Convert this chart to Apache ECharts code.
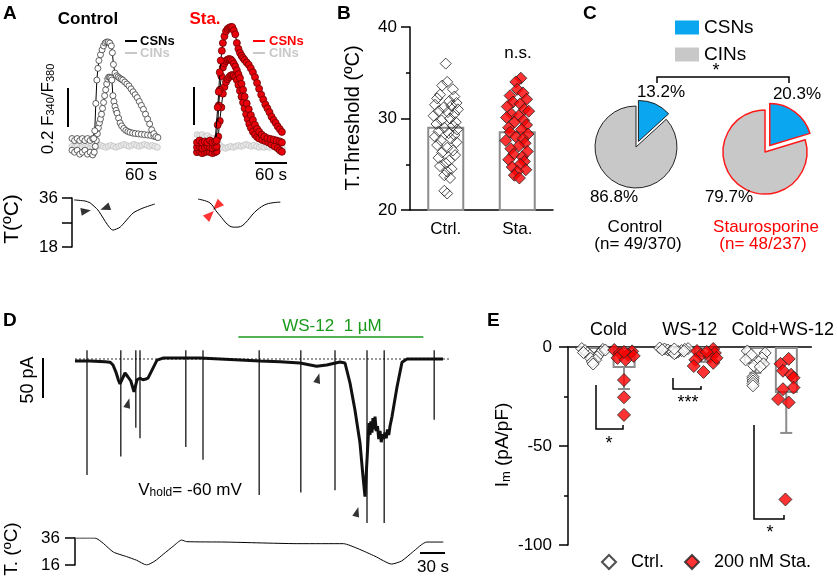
<!DOCTYPE html>
<html><head><meta charset="utf-8">
<script src="https://cdn.jsdelivr.net/npm/echarts@6/dist/echarts.min.js"></script>
<style>html,body{margin:0;padding:0;background:#fff}#c{width:837px;height:582px}</style>
</head><body><div id="c"></div>
<script>
// ---------------- DATA ----------------
// Panel A: Fura-2 ratio traces [time s, F340/F380]
const ctrlCsn1 = [[0,.71],[5,.70],[10,.71],[15,.70],[20,.71],[25,.70],[30,.71],[35,.70],[40,.71],[42,.71],[44,.75],[46,.89],[48,1.01],[50,1.07],[52,1.11],[55,1.14],[58,1.165],[61,1.185],[64,1.20],[67,1.205],[70,1.205],[73,1.20],[76,1.185],[78,1.15],[80,1.09],[83,1.046],[86,1.032],[89,1.026],[92,1.02],[95,1.015],[98,1.01],[102,1.0],[106,.99],[110,.98],[114,.965],[118,.95],[122,.935],[126,.92],[130,.90],[134,.88],[138,.86],[142,.835],[146,.81],[150,.785],[154,.755],[158,.735],[162,.72],[166,.715]];
const ctrlCsn2 = [[0,.65],[5,.64],[10,.65],[15,.63],[20,.64],[25,.65],[30,.63],[35,.64],[40,.626],[43,.64],[45,.67],[47,.70],[49,.735],[51,.765],[53,.79],[55,.81],[57,.835],[59,.865],[61,.895],[63,.93],[65,.96],[67,.99],[69,1.015],[71,1.025],[73,1.024],[75,1.02],[77,1.01],[79,.93],[81,.90],[83,.875],[85,.855],[87,.84],[90,.815],[93,.79],[96,.775],[100,.762],[104,.752],[108,.746],[112,.742],[117,.738],[122,.736],[128,.734],[134,.732],[140,.73],[146,.728],[152,.726],[158,.722],[164,.718]];
const ctrlCin = [[0,.67],[5,.665],[10,.67],[15,.66],[20,.665],[25,.67],[30,.665],[35,.66],[40,.665],[45,.67],[50,.67],[55,.675],[60,.67],[65,.665],[70,.67],[75,.675],[80,.67],[85,.665],[90,.67],[95,.675],[100,.68],[105,.675],[110,.67],[115,.675],[120,.68],[125,.675],[130,.67],[135,.675],[140,.68],[145,.675],[150,.67],[155,.675],[160,.67],[165,.665]];
const staCsn1 = [[0,.69],[5,.70],[10,.69],[15,.695],[20,.69],[25,.70],[30,.69],[35,.695],[38,.70],[40,.87],[42,.95],[44,1.05],[46,1.11],[48,1.16],[50,1.20],[53,1.235],[56,1.26],[59,1.272],[62,1.278],[65,1.282],[68,1.282],[71,1.265],[74,1.245],[77,1.20],[80,1.17],[83,1.15],[86,1.135],[89,1.123],[92,1.113],[96,1.10],[100,1.088],[104,1.07],[108,1.05],[112,1.025],[116,.995],[120,.965],[124,.935],[128,.91],[132,.885],[136,.865],[140,.845],[144,.822],[148,.805],[152,.79],[156,.772],[160,.758],[164,.744]];
const staCsn2 = [[0,.665],[5,.67],[10,.66],[15,.665],[20,.67],[25,.665],[30,.66],[35,.665],[38,.67],[40,.78],[42,.88],[44,.96],[47,1.03],[50,1.075],[53,1.095],[56,1.108],[59,1.115],[62,1.118],[65,1.116],[68,1.108],[71,1.095],[74,1.08],[77,1.06],[80,1.04],[83,1.02],[86,.99],[89,.96],[92,.925],[96,.89],[100,.86],[104,.83],[108,.805],[112,.78],[116,.76],[120,.745],[125,.73],[130,.72],[136,.712],[142,.708],[148,.704],[154,.70],[160,.695],[164,.69]];
const staCsn3 = [[0,.64],[5,.645],[10,.635],[15,.64],[20,.645],[25,.64],[30,.635],[35,.64],[38,.645],[41,.72],[44,.80],[47,.87],[50,.94],[53,.975],[56,1.0],[59,1.015],[62,1.025],[65,1.033],[68,1.036],[71,1.033],[74,1.025],[77,1.01],[80,.985],[83,.955],[86,.925],[89,.895],[92,.865],[95,.835],[98,.81],[101,.785],[104,.765],[108,.745],[112,.73],[116,.718],[120,.71],[126,.703],[132,.697],[138,.69],[144,.68],[150,.67],[156,.66],[160,.65],[164,.642]];
const staCin = [[0,.73],[5,.725],[10,.73],[15,.72],[20,.725],[25,.715],[30,.71],[35,.70],[40,.69],[45,.675],[50,.665],[55,.66],[60,.665],[65,.67],[70,.665],[75,.67],[80,.675],[85,.67],[90,.675],[95,.68],[100,.675],[105,.67],[110,.675],[115,.67],[120,.665],[125,.67],[130,.665],[135,.67],[140,.665],[145,.67],[150,.665],[155,.67],[160,.665],[165,.66]];
// Panel A: bath temperature [time s, ºC] and threshold arrows
const ctrlTemp = [[4,35.3],[25,34.9],[35,34.2],[50,31.6],[79,24.2],[93,25.3],[118,30.5],[137,32.3],[160,33.8]];
const staTemp = [[2,35.6],[25,34.2],[40,30.5],[70,25.3],[79,25.3],[116,31.6],[135,33.8],[161,34.5]];
const ctrlArrows = [[27,31.2],[64,32.3]];
const staArrows = [[25,29.8],[38.6,33.1]];
// Panel B
const bCategories = ['Ctrl.', 'Sta.'];
const bMean = [29.1, 28.6];
const bCtrlThreshold = [36.0,34.0,33.6,33.2,32.6,32.4,32.2,31.9,31.7,31.5,31.4,31.2,31.0,30.8,30.7,30.5,30.3,30.0,29.8,29.6,29.4,29.2,29.0,28.8,28.6,28.4,28.2,28.0,27.8,27.6,27.4,27.1,26.8,26.5,26.3,26.0,25.7,25.4,25.1,24.8,24.5,24.2,23.8,23.5,22.1,21.8];
const bCtrlJitter = [0,0.02,-0.05,0.1,-0.08,0.12,-0.12,0.05,0.15,-0.15,0.08,-0.03,0.17,-0.1,0.03,0.12,-0.17,0.06,-0.06,0.14,-0.13,0.1,-0.02,0.16,-0.1,0.04,0.12,-0.15,0.07,-0.07,0.15,-0.12,0.02,0.1,-0.05,0.13,-0.1,0.05,0.0,-0.08,0.08,0.02,-0.02,0.06,-0.02,0.02];
const bStaThreshold = [34.4,34.0,33.2,32.8,32.5,32.1,31.8,31.6,31.3,31.0,30.8,30.5,30.3,30.1,29.8,29.6,29.3,29.0,28.8,28.5,28.3,28.0,27.8,27.6,27.3,27.0,26.7,26.4,26.1,25.8,25.5,25.3,25.0,24.7,24.4,24.2,23.8,23.5];
const bStaJitter = [0.05,-0.02,0.0,0.08,-0.1,0.13,-0.06,0.04,-0.14,0.1,0.16,-0.08,0.02,-0.15,0.09,-0.04,0.13,-0.12,0.06,-0.1,0.15,-0.02,0.08,-0.16,0.11,0.02,-0.09,0.14,-0.05,0.07,-0.12,0.1,0.04,-0.07,0.12,0.0,-0.04,0.03];
// Panel C
const pieNames = ['CSNs', 'CINs'];
const ctrlPct = [13.2, 86.8];
const staPct = [20.3, 79.7];
// Panel D: whole-cell current [time s, pA], spikes [time, top, bottom], temperature
const dCurrent = [[0,-2.5],[18,-2.5],[36,-3.5],[42,-4],[45.6,-7.5],[49,-16],[52,-26],[54,-31],[56.4,-32.5],[60,-17.5],[63.6,-22.5],[67,-27.5],[70.8,-41],[74.4,-26],[78,-24],[81.6,-26],[85,-25],[87.6,-24],[92.4,-14],[98.4,-1.5],[105.6,1.2],[126,1.2],[150,1.2],[174,0],[198,-1.2],[222,-2.5],[246,-3.5],[270,-5],[290,-9],[302,-7.5],[318,-3.8],[324,-5],[330,-30],[336,-64],[342,-105],[345.6,-147],[348,-172],[350.4,-126],[352.8,-80],[354,-95],[355,-78],[356.4,-92],[357.5,-74],[359,-88],[360,-72],[361.5,-90],[363,-84],[364.5,-100],[366,-90],[367.5,-104],[369,-94],[370.5,-100],[372,-92],[373.5,-99],[375,-88],[376.5,-95],[378,-84],[380.4,-72],[386.4,-35],[392.4,-4],[398.4,0],[414,0],[441.6,0]];
const dSpikes = [[14.4,11,-145],[55,11,-122],[73,11,-86],[78,11,-99],[133,11,-110],[153.6,11,-126],[221,11,-170],[271,11,-167],[312,11,-164],[350.4,11,-205],[371,11,-205],[431,11,-76]];
const dArrows = [[63.6,-55],[291.6,-24],[338.4,-191]];
const dWsApplication = [[196,27.5],[418,27.5]];
const dZeroLine = [[0,0],[450,0]];
const dTemp = [[1,36],[24,36],[34,32],[46,25.6],[62,22.2],[74,19.5],[86,16],[96,19],[106,24],[118,30],[128,34.5],[134,33.3],[180,33],[270,31.8],[322,31.8],[340,28],[360,22.5],[380,16.7],[392,19],[405,25.5],[422,33],[442,33]];
// Panel E
const eCategories = ['Cold', 'WS-12', 'Cold+WS-12'];
const eCtrlMean = [-4, -1.5, -8.6];
const eCtrlSem = [1.2, 0.5, 4.5];
const eStaMean = [-10.6, -5.0, -23.2];
const eStaSem = [10.6, 2.5, 20.2];
const eCtrlCold = [-0.8,-1.2,-1.8,-2.4,-3,-3.6,-4.2,-5,-5.8,-6.6,-7.5,-8.6,-1.5,-2.8];
const eCtrlColdJit = [-0.14,0.12,-0.1,0.1,-0.07,0.07,-0.04,0.05,-0.03,0.03,-0.01,0.0,0.15,-0.12];
const eCtrlWs = [-0.5,-0.8,-1,-1.2,-1.5,-1.8,-2,-2.3,-2.6,-3,-3.4,-1,-1.4,-2.1];
const eCtrlWsJit = [-0.18,0.17,-0.12,0.13,-0.08,0.09,-0.04,0.05,-0.02,0.02,0.0,0.0,-0.15,0.12];
const eCtrlCw = [-2,-3,-4,-5.5,-6.5,-7.5,-8.5,-9.5,-10,-15,-16,-17.2,-18.4,-19.6];
const eCtrlCwJit = [-0.1,0.12,-0.05,0.08,-0.12,0.04,0.1,-0.02,0.06,-0.03,-0.03,-0.03,-0.03,-0.03];
const eStaCold = [-1.5,-2.2,-3,-3.8,-4.5,-5.5,-6.5,-2.5,-16.7,-25.4,-34.3];
const eStaColdJit = [-0.12,0.1,-0.05,0.05,0.12,-0.08,0.02,0.0,0,0,0];
const eStaWs = [-1,-2,-3,-4,-5,-6.5,-8,-9.6,-12.6,-2.5,-5.5];
const eStaWsJit = [0.1,-0.1,0.12,-0.05,0.06,-0.12,0.1,-0.14,-0.02,0.02,0.14];
const eStaCw = [-6,-8.5,-12,-14,-15.5,-20.5,-21.3,-26.3,-28,-77];
const eStaCwJit = [0.03,-0.07,-0.04,0.06,0.09,0.09,-0.04,-0.1,0.03,-0.01];

// ---------------- CHART ----------------
const FONT = "'Liberation Sans', Arial, Helvetica, sans-serif";
const chart = echarts.init(document.getElementById('c'), null, {renderer: 'canvas'});
const hx = (g, min, max) => ({type: 'value', gridIndex: g, min, max, show: false});
const hy = (g, min, max) => ({type: 'value', gridIndex: g, min, max, show: false, splitLine: {show: false}});
const blackAxis = {show: true, lineStyle: {color: '#000', width: 1.5}};
const tickStyle = {color: '#000', width: 1.5};

const withJit = (vals, jits, base) => vals.map((v, i) => [base + jits[i], v]);
const eCtrlPts = [].concat(withJit(eCtrlCold, eCtrlColdJit, 0.31), withJit(eCtrlWs, eCtrlWsJit, 1.31), withJit(eCtrlCw, eCtrlCwJit, 2.31));
const eStaPts = [].concat(withJit(eStaCold, eStaColdJit, 0.69), withJit(eStaWs, eStaWsJit, 1.69), withJit(eStaCw, eStaCwJit, 2.69));
const eErr = [];
eCtrlMean.forEach((m, i) => eErr.push([i + 0.31, m, m - eCtrlSem[i]]));
eStaMean.forEach((m, i) => eErr.push([i + 0.69, m, m - eStaSem[i]]));

const traceSeries = (data, xi, fill, border, line, size, z) => ({
  type: 'line', xAxisIndex: xi, yAxisIndex: xi, data, symbol: 'circle', symbolSize: size, showAllSymbol: true,
  itemStyle: {color: fill, borderColor: border, borderWidth: 0.8}, lineStyle: {color: line, width: 1}, z, silent: true
});

const T = (text, x, y, st, rot) => ({type: 'text', x, y, rotation: rot || 0, z: 100,
  style: Object.assign({text, fontFamily: FONT, fontSize: 17, fill: '#000', align: 'center', verticalAlign: 'middle'}, st || {})});
const PL = (pts, w, c) => ({type: 'polyline', z: 100, shape: {points: pts}, style: {stroke: c || '#000', lineWidth: w || 1.5, fill: null}});
const subRich = (fs, sub) => ({s: {fontSize: sub, fontFamily: FONT, lineHeight: 10, verticalAlign: 'bottom', fill: '#000'}});

const option = {
  animation: false,
  textStyle: {fontFamily: FONT, color: '#000'},
  grid: [
    {left: 72, top: 20, width: 88, height: 140},
    {left: 197, top: 20, width: 88, height: 140},
    {left: 72, top: 198, width: 88, height: 49},
    {left: 197, top: 198, width: 88, height: 49},
    {left: 410, top: 27, width: 143, height: 183},
    {left: 75, top: 335, width: 385, height: 200},
    {left: 75, top: 538, width: 385, height: 27},
    {left: 568, top: 347, width: 244, height: 198}
  ],
  xAxis: [
    hx(0, 0, 170), hx(1, 0, 170), hx(2, 0, 170), hx(3, 0, 170),
    {type: 'category', gridIndex: 4, data: bCategories, axisLine: blackAxis, axisTick: {show: false},
     axisLabel: {fontSize: 17, color: '#000', margin: 11, interval: 0, fontFamily: FONT}},
    hx(4, 0, 2),
    hx(5, 0, 462), hx(6, 0, 462),
    {type: 'category', gridIndex: 7, position: 'top', data: eCategories, axisLine: blackAxis, axisTick: {show: false},
     axisLabel: {fontSize: 18, color: '#000', margin: 8, interval: 0, fontFamily: FONT,
       formatter: v => v === 'Cold+WS-12' ? '{r|' + v + '}' : v,
       rich: {r: {fontSize: 18, fontFamily: FONT, color: '#000', padding: [0, 0, 0, 24]}}}},
    hx(7, 0, 3)
  ],
  yAxis: [
    hy(0, 0.6, 1.318), hy(1, 0.6, 1.318),
    {type: 'value', gridIndex: 2, min: 18, max: 36, interval: 9, offset: 11, axisLine: blackAxis,
     axisTick: {show: true, length: 10, lineStyle: tickStyle}, splitLine: {show: false},
     axisLabel: {fontSize: 17, color: '#000', margin: 3, formatter: v => (v === 27 ? '' : v)}},
    hy(3, 18, 36),
    {type: 'value', gridIndex: 4, min: 20, max: 40, interval: 10, offset: 7, axisLine: blackAxis,
     axisTick: {show: true, length: 9, lineStyle: tickStyle}, minorTick: {show: true, splitNumber: 2, length: 4, lineStyle: tickStyle},
     splitLine: {show: false}, minorSplitLine: {show: false}, axisLabel: {fontSize: 17, color: '#000', margin: 6}},
    hy(5, -220, 30),
    {type: 'value', gridIndex: 6, min: 16, max: 36, interval: 20, offset: 12, axisLine: blackAxis,
     axisTick: {show: true, length: 10, lineStyle: tickStyle}, splitLine: {show: false},
     axisLabel: {fontSize: 17, color: '#000', margin: 3}},
    {type: 'value', gridIndex: 7, min: -100, max: 0, interval: 50, offset: 11, axisLine: blackAxis,
     axisTick: {show: true, length: 9, lineStyle: tickStyle}, minorTick: {show: true, splitNumber: 2, length: 4, lineStyle: tickStyle},
     splitLine: {show: false}, minorSplitLine: {show: false}, axisLabel: {fontSize: 17, color: '#000', margin: 5}}
  ],
  legend: [
    {data: pieNames, orient: 'vertical', left: 670, top: 13, itemWidth: 24, itemHeight: 14, itemGap: 8, icon: 'rect',
     selectedMode: false, itemStyle: {borderWidth: 0}, textStyle: {fontSize: 19, color: '#000', fontFamily: FONT}},
    {data: ['Ctrl.', '200 nM Sta.'], orient: 'horizontal', left: 596, top: 548, itemWidth: 14, itemHeight: 14, itemGap: 20,
     selectedMode: false, textStyle: {fontSize: 18, color: '#000', fontFamily: FONT, padding: [0, 0, 0, 10]}}
  ],
  series: [
    // Panel A traces
    traceSeries(ctrlCin, 0, '#e9e9e9', '#c4c4c4', '#d0d0d0', 6, 2),
    traceSeries(ctrlCsn2, 0, '#ffffff', '#3a3a3a', '#000', 6, 3),
    traceSeries(ctrlCsn1, 0, '#ffffff', '#3a3a3a', '#000', 6, 4),
    traceSeries(staCin, 1, '#e9e9e9', '#c4c4c4', '#d0d0d0', 6, 2),
    traceSeries(staCsn3, 1, '#e8000b', '#6a0000', '#000', 7, 3),
    traceSeries(staCsn2, 1, '#e8000b', '#6a0000', '#000', 7, 4),
    traceSeries(staCsn1, 1, '#e8000b', '#6a0000', '#000', 7, 5),
    {type: 'line', xAxisIndex: 2, yAxisIndex: 2, data: ctrlTemp, symbol: 'none', smooth: 0.2, lineStyle: {color: '#000', width: 1}},
    {type: 'scatter', xAxisIndex: 2, yAxisIndex: 2, symbol: 'triangle', symbolSize: [8, 10], itemStyle: {color: '#000'},
     data: [{value: ctrlArrows[0], symbolRotate: -80}, {value: ctrlArrows[1], symbolRotate: 110}]},
    {type: 'line', xAxisIndex: 3, yAxisIndex: 3, data: staTemp, symbol: 'none', smooth: 0.35, lineStyle: {color: '#000', width: 1}},
    {type: 'scatter', xAxisIndex: 3, yAxisIndex: 3, symbol: 'triangle', symbolSize: [9, 11], itemStyle: {color: '#ff0000'},
     data: [{value: staArrows[0], symbolRotate: -45}, {value: staArrows[1], symbolRotate: 135}]},
    // Panel B
    {type: 'bar', name: 'B mean', xAxisIndex: 4, yAxisIndex: 4, data: bMean, barWidth: 37,
     itemStyle: {color: 'rgba(255,255,255,0)', borderColor: '#8c8c8c', borderWidth: 2}, z: 2},
    {type: 'scatter', name: 'B ctrl', xAxisIndex: 5, yAxisIndex: 4, symbol: 'diamond', symbolSize: 11,
     data: bCtrlThreshold.map((v, i) => [0.5 + bCtrlJitter[i], v]),
     itemStyle: {color: 'rgba(255,255,255,0)', borderColor: '#222', borderWidth: 1}, z: 3},
    {type: 'scatter', name: 'B sta', xAxisIndex: 5, yAxisIndex: 4, symbol: 'diamond', symbolSize: 12,
     data: bStaThreshold.map((v, i) => [1.5 + bStaJitter[i], v]),
     itemStyle: {color: '#ff0000', borderColor: '#222', borderWidth: 1}, z: 3},
    // Panel C
    {type: 'pie', center: [636, 147], radius: 41, startAngle: 90, clockwise: true, selectedMode: 'single', selectedOffset: 6,
     label: {show: false}, labelLine: {show: false}, emphasis: {disabled: true},
     itemStyle: {borderColor: '#222', borderWidth: 1},
     data: [{name: pieNames[0], value: ctrlPct[0], selected: true, itemStyle: {color: '#0aa6ef'}},
            {name: pieNames[1], value: ctrlPct[1], itemStyle: {color: '#c8c8c8'}}]},
    {type: 'pie', center: [765, 152], radius: 42, startAngle: 90, clockwise: true, selectedMode: 'single', selectedOffset: 8,
     label: {show: false}, labelLine: {show: false}, emphasis: {disabled: true},
     itemStyle: {borderColor: '#ff1a1a', borderWidth: 1.5},
     data: [{name: pieNames[0], value: staPct[0], selected: true, itemStyle: {color: '#0aa6ef'}},
            {name: pieNames[1], value: staPct[1], itemStyle: {color: '#c8c8c8'}}]},
    // Panel D
    {type: 'line', xAxisIndex: 6, yAxisIndex: 5, data: dZeroLine, symbol: 'none', z: 6,
     lineStyle: {type: [2, 2], color: '#000', width: 0.8}},
    {type: 'line', xAxisIndex: 6, yAxisIndex: 5, data: dCurrent, symbol: 'none', lineStyle: {color: '#111', width: 3}, z: 4},
    {type: 'custom', xAxisIndex: 6, yAxisIndex: 5, data: dSpikes, z: 3,
     renderItem: (params, api) => {
       const p1 = api.coord([api.value(0), api.value(1)]);
       const p2 = api.coord([api.value(0), api.value(2)]);
       return {type: 'line', shape: {x1: p1[0], y1: p1[1], x2: p2[0], y2: p2[1]}, style: {stroke: '#000', lineWidth: 1.2}};
     }},
    {type: 'scatter', xAxisIndex: 6, yAxisIndex: 5, data: dArrows, symbol: 'triangle', symbolSize: [7, 10], symbolRotate: -15,
     itemStyle: {color: '#000'}, z: 5},
    {type: 'line', xAxisIndex: 6, yAxisIndex: 5, data: dWsApplication, symbol: 'none', lineStyle: {color: '#1a9a1a', width: 1.5}},
    {type: 'line', xAxisIndex: 7, yAxisIndex: 6, data: dTemp, symbol: 'none', smooth: 0.2, lineStyle: {color: '#000', width: 1}},
    // Panel E
    {type: 'bar', name: 'E ctrl mean', xAxisIndex: 8, yAxisIndex: 7, data: eCtrlMean, barWidth: 23, barGap: '35%',
     itemStyle: {color: 'rgba(255,255,255,0)', borderColor: '#8c8c8c', borderWidth: 2}, z: 2},
    {type: 'bar', name: 'E sta mean', xAxisIndex: 8, yAxisIndex: 7, data: eStaMean, barWidth: 23, barGap: '35%',
     itemStyle: {color: 'rgba(255,255,255,0)', borderColor: '#8c8c8c', borderWidth: 2}, z: 2},
    {type: 'custom', xAxisIndex: 9, yAxisIndex: 7, data: eErr, z: 3,
     renderItem: (params, api) => {
       const a = api.coord([api.value(0), api.value(1)]);
       const b = api.coord([api.value(0), api.value(2)]);
       const st = {stroke: '#8c8c8c', lineWidth: 2};
       return {type: 'group', children: [
         {type: 'line', shape: {x1: a[0], y1: a[1], x2: b[0], y2: b[1]}, style: st},
         {type: 'line', shape: {x1: b[0] - 6, y1: b[1], x2: b[0] + 6, y2: b[1]}, style: st}]};
     }},
    {type: 'scatter', name: 'Ctrl.', xAxisIndex: 9, yAxisIndex: 7, data: eCtrlPts, symbol: 'diamond', symbolSize: 12,
     itemStyle: {color: '#ffffff', borderColor: '#222', borderWidth: 1}, z: 4},
    {type: 'scatter', name: '200 nM Sta.', xAxisIndex: 9, yAxisIndex: 7, data: eStaPts, symbol: 'diamond', symbolSize: 13,
     itemStyle: {color: '#ff0000', borderColor: '#222', borderWidth: 1}, z: 5}
  ],
  graphic: [
    // panel letters
    T('A', 3, 14, {fontSize: 19, fontWeight: 'bold', align: 'left'}),
    T('B', 337, 14, {fontSize: 19, fontWeight: 'bold', align: 'left'}),
    T('C', 583, 14, {fontSize: 19, fontWeight: 'bold', align: 'left'}),
    T('D', 3, 321, {fontSize: 19, fontWeight: 'bold', align: 'left'}),
    T('E', 487, 321, {fontSize: 19, fontWeight: 'bold', align: 'left'}),
    // Panel A
    T('Control', 88, 19, {fontWeight: 'bold', fontSize: 17}),
    T('Sta.', 205, 19, {fontWeight: 'bold', fontSize: 17, fill: '#ff0000'}),
    PL([[125, 41], [137, 41]], 2, '#000'), T('CSNs', 140, 41, {fontWeight: 'bold', fontSize: 13, align: 'left'}),
    PL([[125, 53], [137, 53]], 2, '#c8c8c8'), T('CINs', 140, 53, {fontWeight: 'bold', fontSize: 13, align: 'left', fill: '#c8c8c8'}),
    PL([[253, 41], [265, 41]], 2, '#ff0000'), T('CSNs', 269, 41, {fontWeight: 'bold', fontSize: 13, align: 'left', fill: '#ff0000'}),
    PL([[253, 53], [265, 53]], 2, '#c8c8c8'), T('CINs', 269, 53, {fontWeight: 'bold', fontSize: 13, align: 'left', fill: '#c8c8c8'}),
    PL([[68, 88], [68, 127]], 2), PL([[194, 87], [194, 125]], 2),
    T('0.2 F{s|340}/F{s|380}', 48, 109, {fontSize: 17, rich: subRich(17, 11)}, Math.PI / 2),
    PL([[126, 163], [157, 163]], 2), T('60 s', 141, 175),
    PL([[255, 163], [287, 163]], 2), T('60 s', 271, 175),
    T('T(ºC)', 12, 219, {fontSize: 21}, Math.PI / 2),
    // Panel B
    T('T.Threshold (ºC)', 353, 118, {fontSize: 20}, Math.PI / 2),
    T('n.s.', 518, 53),
    // Panel C
    PL([[657, 83], [657, 77], [789, 77], [789, 83]], 1.5),
    T('*', 716, 71, {fontSize: 18}),
    T(ctrlPct[0].toFixed(1) + '%', 661, 92),
    T(staPct[0].toFixed(1) + '%', 797, 94),
    T(ctrlPct[1].toFixed(1) + '%', 614, 197),
    T(staPct[1].toFixed(1) + '%', 729, 197),
    T('Control', 635, 227),
    T('(n= 49/370)', 638, 244),
    T('Staurosporine', 766, 227, {fill: '#ff0000'}),
    T('(n= 48/237)', 763, 244, {fill: '#ff0000'}),
    // Panel D
    PL([[43, 358], [43, 398]], 2),
    T('50 pA', 28, 380, {fontSize: 18}, Math.PI / 2),
    T('WS-12  1 µM', 332, 326, {fill: '#1a9a1a'}),
    T('V{s|hold}= -60 mV', 190, 490, {fontSize: 17, rich: subRich(17, 12)}),
    PL([[420, 553], [445, 553]], 2), T('30 s', 433, 567),
    T('T. (ºC)', 12, 549, {fontSize: 19}, Math.PI / 2),
    // Panel E
    T('I{s|m} (pA/pF)', 503, 445, {fontSize: 19, rich: subRich(19, 13)}, Math.PI / 2),
    PL([[596, 385], [596, 429], [623, 429], [623, 425]], 1.5),
    T('*', 609, 444, {fontSize: 18}),
    PL([[673, 378], [673, 389], [701, 389], [701, 386]], 1.5),
    T('***', 688, 403, {fontSize: 18}),
    PL([[754, 425], [754, 519], [784, 519], [784, 515]], 1.5),
    T('*', 770, 533, {fontSize: 18})
  ]
};
chart.setOption(option);
</script></body></html>
